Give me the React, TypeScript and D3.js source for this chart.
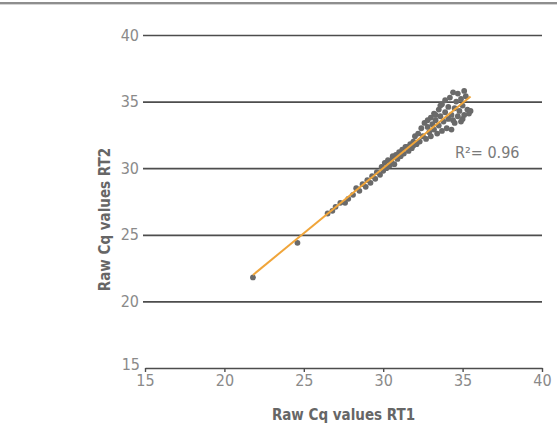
import React, { useRef, useEffect } from "react";
import * as d3 from "d3";

// Raw Cq values, RT1 (x) vs RT2 (y)
const rt1 = [
  21.8, 24.6, 26.5, 26.8, 27.0, 27.3, 27.6, 27.8, 28.1, 28.3, 28.5, 28.7, 28.9, 29.0, 29.2, 29.3,
  29.5, 29.6, 29.8, 29.9, 30.0, 30.1, 30.2, 30.3, 30.4, 30.5, 30.6, 30.7, 30.8, 30.9, 31.0, 31.1,
  31.2, 31.3, 31.5, 31.6, 31.7, 31.8, 31.9,
  32.0, 32.1, 32.2, 32.3, 32.4, 32.5, 32.6, 32.7, 32.8, 32.9, 33.0, 33.0, 33.1, 33.2, 33.2, 33.3,
  33.4, 33.5, 33.5, 33.6, 33.7, 33.7, 33.8, 33.9, 33.9, 34.0, 34.1, 34.1, 34.2, 34.3, 34.3, 34.4,
  34.5, 34.5, 34.6, 34.7, 34.7, 34.8, 34.9, 34.9, 35.0, 35.1, 35.1, 35.2, 35.3, 35.4, 35.5, 35.0,
  34.4, 33.6, 33.3, 32.8, 31.4, 31.9, 30.6,
];
const rt2 = [
  21.8, 24.4, 26.6, 26.8, 27.1, 27.4, 27.4, 27.7, 28.0, 28.5, 28.3, 28.8, 28.6, 29.1, 28.9, 29.4,
  29.2, 29.7, 29.5, 30.1, 29.8, 30.4, 30.0, 30.6, 30.2, 30.5, 30.9, 30.3, 31.0, 30.7, 31.2, 30.9,
  31.4, 31.1, 31.6, 31.3, 31.8, 31.5, 32.0,
  32.4, 31.8, 32.6, 32.0, 33.0, 32.4, 33.4, 32.2, 33.1, 32.7, 33.8, 32.4, 33.3, 32.9, 34.1, 33.6,
  32.6, 34.4, 33.2, 33.9, 32.8, 34.8, 33.5, 34.2, 35.1, 33.0, 34.6, 33.7, 35.3, 34.0, 32.9, 35.7,
  34.5, 33.4, 35.0, 33.9, 35.6, 34.3, 35.2, 33.5, 34.7, 35.8, 34.0, 35.4, 34.4, 34.1, 34.3, 33.7,
  33.6, 34.7, 34.0, 33.6, 31.6, 31.7, 30.8,
];
const xTicks = [15, 20, 25, 30, 35, 40];
const yTicks = [15, 20, 25, 30, 35, 40];
const r2Label = "R\u00b2= 0.96";

export default function App() {
  const svgRef = useRef(null);
  const width = 557;
  const height = 432;

  useEffect(() => {
    const left = 145;
    const right = 542;
    const top = 35;
    const bottom = 368;
    const font = "'DejaVu Sans Condensed', 'DejaVu Sans', sans-serif";
    const lineCol = "#4d4d4d";

    const x = d3.scaleLinear().domain([15, 40]).range([left, right]);
    const y = d3.scaleLinear().domain([15, 40]).range([bottom, top]);

    const svg = d3.select(svgRef.current);
    svg.selectAll("*").remove();

    // top border of the figure
    svg.append("rect").attr("x", 0).attr("y", 2).attr("width", width).attr("height", 2).attr("fill", "#8e8e8e");
    svg.append("rect").attr("x", 0).attr("y", 4).attr("width", width).attr("height", 1).attr("fill", "#d4d4d4");

    // y gridlines + labels
    svg
      .append("g")
      .attr("transform", `translate(${left - 2},0)`)
      .call(d3.axisLeft(y).tickValues(yTicks.filter((t) => t > 15)).tickSize(-(right - left + 2)).tickPadding(4))
      .call((g) => g.select(".domain").remove())
      .call((g) => g.selectAll(".tick line").attr("stroke", lineCol).attr("stroke-width", 1.7))
      .call((g) =>
        g.selectAll(".tick text").attr("fill", "#8a8a8a").attr("font-size", 16).attr("font-family", font)
      );

    // y = 15 label sits at the x axis
    svg
      .append("text")
      .attr("x", left - 5)
      .attr("y", y(15))
      .attr("dy", "0.1em")
      .attr("text-anchor", "end")
      .attr("fill", "#8a8a8a")
      .attr("font-size", 16)
      .attr("font-family", font)
      .text(String(yTicks[0]));

    // x axis
    svg
      .append("g")
      .attr("transform", `translate(0,${bottom})`)
      .call(d3.axisBottom(x).tickValues(xTicks).tickSize(4).tickPadding(3).tickSizeOuter(0))
      .call((g) => g.select(".domain").attr("stroke", lineCol).attr("stroke-width", 1.7))
      .call((g) => g.selectAll(".tick line").attr("stroke", lineCol).attr("stroke-width", 1.4))
      .call((g) =>
        g.selectAll(".tick text").attr("fill", "#8a8a8a").attr("font-size", 16).attr("font-family", font)
      );

    // axis titles
    svg
      .append("text")
      .attr("x", (left + right) / 2)
      .attr("y", 420)
      .attr("text-anchor", "middle")
      .attr("fill", "#666")
      .attr("font-weight", "bold")
      .attr("font-size", 15)
      .attr("font-family", font)
      .text("Raw Cq values RT1");

    svg
      .append("text")
      .attr("transform", `translate(110,${(top + bottom) / 2 + 18}) rotate(-90)`)
      .attr("text-anchor", "middle")
      .attr("fill", "#666")
      .attr("font-weight", "bold")
      .attr("font-size", 15)
      .attr("font-family", font)
      .text("Raw Cq values RT2");

    // points
    const pts = rt1.map((v, i) => [v, rt2[i]] as [number, number]);
    svg
      .append("g")
      .selectAll("circle")
      .data(pts)
      .join("circle")
      .attr("cx", (d) => x(d[0]))
      .attr("cy", (d) => y(d[1]))
      .attr("r", 2.9)
      .attr("fill", "#6a6a6a");

    // least squares fit
    const mx = d3.mean(rt1) as number;
    const my = d3.mean(rt2) as number;
    const slope =
      d3.sum(pts, (d) => (d[0] - mx) * (d[1] - my)) / d3.sum(pts, (d) => (d[0] - mx) * (d[0] - mx));
    const icpt = my - slope * mx;
    const [x0, x1] = d3.extent(rt1) as [number, number];
    svg
      .append("path")
      .datum([x0, x1])
      .attr("fill", "none")
      .attr("stroke", "#f0a53a")
      .attr("stroke-width", 2)
      .attr(
        "d",
        d3
          .line<number>()
          .x((d) => x(d))
          .y((d) => y(slope * d + icpt))
      );

    svg
      .append("text")
      .attr("x", 455)
      .attr("y", 158)
      .attr("fill", "#7a7a7a")
      .attr("font-size", 16)
      .attr("font-family", font)
      .text(r2Label);
  }, []);

  return (
    <svg
      ref={svgRef}
      width={width}
      height={height}
      style={{ position: "absolute", left: 0, top: 0, background: "#fff" }}
    ></svg>
  );
}
